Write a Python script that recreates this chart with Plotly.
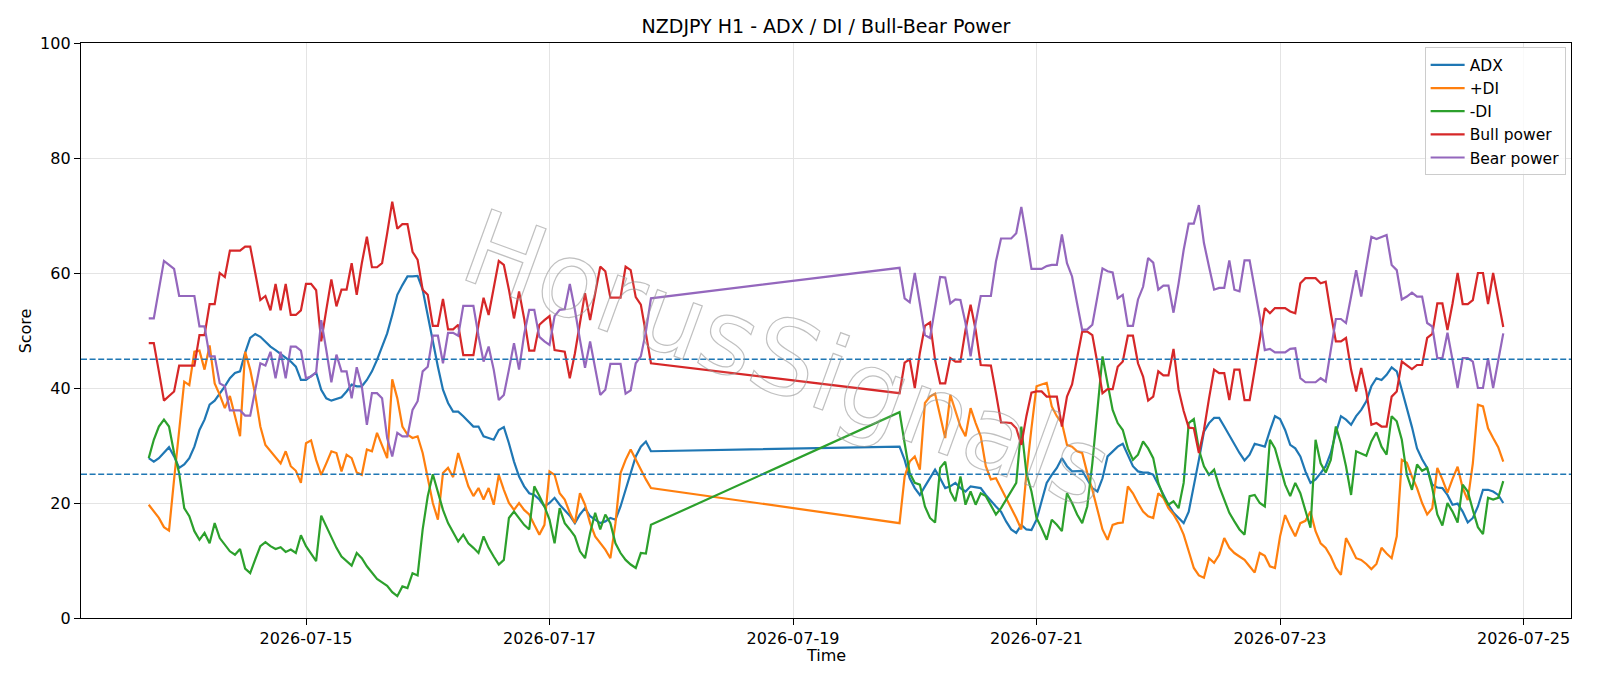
import pandas as pd
import plotly.graph_objects as go

# ---------------- data ----------------
seg1_start, seg1_end = "2026-07-13 17:00", "2026-07-17 20:00"
seg2_start, seg2_end = "2026-07-19 21:00", "2026-07-24 20:00"

adx_week1 = [27.8, 27.2, 27.8, 28.7, 29.7, 28.1, 26.1, 26.7, 27.8, 29.8, 32.7, 34.5, 37.1, 37.8, 39.0, 40.3,
             41.7, 42.6, 42.9, 46.1, 48.7, 49.4, 48.9, 48.1, 47.2, 46.6, 45.9, 45.2, 44.6, 43.7, 41.4, 41.4, 42.0,
             42.7, 39.7, 38.2, 37.8, 38.1, 38.4, 39.4, 40.6, 40.3, 40.3, 41.4, 42.9, 44.9, 47.2, 49.5, 52.7, 56.2,
             57.9, 59.4, 59.4, 59.5, 57.1, 52.4, 47.8, 43.7, 39.7, 37.4, 35.9, 35.9, 35.1, 34.2, 33.3, 33.3, 31.6,
             31.3, 31.0, 32.7, 33.2, 30.4, 27.2, 24.6, 22.9, 21.7, 21.4, 20.6, 19.4, 20.0, 20.9, 19.7, 18.7, 17.8,
             16.5, 18.0, 19.1, 17.7, 17.1, 16.5, 16.8, 17.4, 17.1, 19.4, 22.3, 25.2, 28.1, 29.8, 30.7, 29.0]
adx_week2 = [29.8, 27.5, 24.3, 22.6, 21.4, 22.9, 24.3, 25.8, 24.3, 22.6, 22.9, 23.5, 22.6, 22.0, 22.9, 22.7,
             22.6, 21.4, 20.3, 19.4, 18.5, 16.8, 15.4, 14.8, 16.2,
             15.4, 15.3, 17.1, 20.3, 23.5, 24.9, 26.1, 27.8, 26.4, 25.5, 25.5, 25.6, 24.1, 22.6, 22.0, 24.3, 28.1,
             29.0, 29.8, 30.3, 28.4, 26.4, 25.5, 25.3, 25.3, 24.9, 23.2, 21.4, 19.7, 18.3, 17.4, 16.5, 18.5,
             22.9, 27.5, 32.4, 33.9, 34.8, 34.8, 33.3, 31.7, 30.2, 28.7, 27.4, 28.4, 30.3, 30.1, 29.8, 32.6, 35.1,
             34.6, 32.7, 30.1, 29.5, 28.1, 25.5, 23.5, 24.1, 25.2, 26.4, 28.7, 32.2, 35.1, 34.5, 33.6, 35.1,
             36.2, 37.7, 40.3, 41.7, 41.4, 42.3, 43.6, 42.9, 39.7, 36.5, 33.2, 29.5, 27.6, 26.1, 23.2, 22.7, 22.6,
             21.4, 19.7, 19.9, 18.5, 16.6, 17.4, 19.4, 22.3, 22.3, 22.0, 21.4, 20.0]

plus_di_week1 = [19.7, 18.5, 17.4, 15.8, 15.2, 24.1, 32.2, 41.1, 40.5, 46.3, 46.5, 43.2, 47.4, 40.8, 38.8, 36.5,
                 38.6, 35.1, 31.6, 46.3, 43.2, 38.8, 33.3, 30.1, 29.0, 28.1, 26.9, 29.0, 26.4, 25.6, 23.5, 30.4, 30.9,
                 27.5, 24.9, 26.9, 29.0, 28.7, 25.5, 28.4, 27.8, 25.3, 24.9, 29.3, 29.0, 32.2, 30.1, 27.8, 41.5, 38.2,
                 33.3, 31.9, 31.3, 31.6, 28.7, 24.1, 20.0, 17.1, 25.2, 26.1, 24.5, 28.7, 25.8, 22.9, 21.2, 22.6, 20.6,
                 22.6, 19.7, 24.9, 22.3, 20.0, 18.8, 20.0, 18.8, 18.0, 16.2, 14.5, 16.2, 25.5, 24.9, 21.7, 20.6, 18.3,
                 16.5, 21.7, 19.7, 16.5, 14.2, 13.0, 11.9, 10.4, 16.5, 25.2, 27.5, 29.3, 27.5, 25.8, 24.1, 22.6]
plus_di_week2 = [16.5, 24.6, 27.2, 28.1, 25.8, 37.4, 38.5, 39.0, 35.1, 31.3, 38.8, 35.9, 33.3, 31.6, 36.5, 33.9,
                 31.6, 26.4, 24.1, 24.3, 22.6, 20.9, 19.1, 17.4, 15.4,
                 25.0, 33.0, 40.3, 40.6, 40.9, 36.8, 35.1, 33.9, 30.1, 29.8, 29.0, 28.7, 25.2, 22.3, 18.8, 15.4, 13.6,
                 16.2, 16.5, 16.6, 22.9, 21.7, 20.0, 18.5, 17.7, 17.4, 21.7, 20.9, 19.1, 18.0, 16.5, 14.5, 11.6,
                 8.7, 7.4, 7.0, 10.4, 9.6, 11.0, 13.9, 12.2, 11.3, 10.7, 10.1, 9.0, 7.9, 11.3, 10.8, 9.0, 8.7, 14.2,
                 17.9, 15.9, 14.2, 16.5, 16.9, 18.5, 15.1, 13.0, 12.2, 10.7, 8.7, 7.5, 13.9, 12.2, 10.4,
                 10.1, 9.4, 8.5, 9.4, 12.2, 11.2, 10.4, 14.2, 27.5, 27.0, 24.6, 22.6, 20.0, 18.0, 19.1, 26.1, 24.1,
                 21.8, 24.2, 26.3, 22.6, 20.5, 26.9, 37.1, 36.8, 33.0, 31.3, 29.7, 27.2]

minus_di_week1 = [27.8, 31.0, 33.3, 34.5, 33.3, 28.7, 25.2, 19.1, 17.7, 15.1, 13.6, 14.8, 13.0, 16.5, 13.9, 12.8,
                  11.6, 11.0, 12.0, 8.6, 7.8, 10.2, 12.5, 13.2, 12.5, 12.0, 12.3, 11.5, 11.9, 11.3, 14.4, 12.5, 11.2,
                  9.9, 17.8, 15.9, 14.2, 12.2, 10.7, 9.9, 9.1, 11.3, 10.4, 9.0, 7.9, 6.8, 6.2, 5.6, 4.5, 3.8, 5.5,
                  5.2, 7.8, 7.4, 15.4, 21.2, 25.0, 22.0, 18.8, 16.5, 14.8, 13.3, 14.5, 13.0, 12.2, 11.3, 14.2,
                  12.2, 10.7, 9.3, 10.1, 17.4, 18.5, 17.4, 16.2, 15.4, 22.9, 21.2, 19.4, 17.1, 13.0, 19.1, 16.5, 15.4,
                  14.2, 11.6, 10.4, 14.8, 18.3, 15.4, 18.0, 16.5, 13.0, 11.3, 10.1, 9.3, 8.7, 11.3, 11.2, 16.2]
minus_di_week2 = [35.8, 30.4, 25.2, 23.5, 23.2, 19.4, 17.4, 16.6, 26.1, 27.2, 22.0, 20.3, 24.6, 19.7, 22.0, 19.7,
                  21.7, 21.2, 19.7, 18.0, 19.1, 20.6, 22.0, 23.5, 33.3,
                  25.2, 22.0, 17.4, 15.6, 13.6, 17.1, 16.2, 15.1, 21.7, 20.0, 18.0, 16.5, 19.4, 26.9, 36.8, 45.5, 40.8,
                  36.2, 33.9, 32.7, 29.5, 27.5, 28.4, 30.7, 29.5, 27.8, 23.5, 21.2, 19.7, 20.3, 19.1, 23.5, 33.9,
                  34.6, 29.3, 26.4, 24.9, 25.8, 22.9, 20.5, 18.3, 16.8, 15.4, 14.5, 21.2, 21.4, 20.0, 19.4, 31.0, 29.5,
                  26.4, 23.2, 21.2, 23.5, 21.7, 18.8, 15.7, 31.0, 26.9, 25.3, 27.5, 33.3, 30.4, 26.4, 21.4, 29.0,
                  28.6, 28.2, 30.7, 32.3, 29.8, 28.4, 35.1, 34.2, 31.0, 24.9, 22.3, 26.7, 25.6, 26.1, 22.6, 18.0, 16.1,
                  20.0, 18.5, 16.6, 23.2, 22.0, 18.8, 15.8, 14.6, 20.9, 20.6, 20.9, 23.8]

bull_week1 = [47.8, 47.8, 42.9, 37.8, 38.6, 39.4, 43.9, 43.9, 43.9, 43.9, 49.2, 49.2, 54.6, 54.6, 60.0, 59.3,
              63.9, 63.9, 63.9, 64.6, 64.6, 60.0, 55.3, 56.0, 53.5, 58.1, 53.5, 58.1, 52.7, 52.7, 53.5, 58.1, 58.1,
              57.0, 48.1, 53.6, 58.9, 54.2, 57.1, 57.1, 61.7, 56.2, 61.7, 66.3, 61.0, 61.0, 61.7, 66.9, 72.4, 67.7,
              68.5, 68.5, 63.7, 62.3, 57.1, 56.2, 50.8, 50.8, 55.5, 50.2, 50.2, 51.0, 45.7, 45.7, 45.7, 51.0, 55.7,
              52.7, 57.6, 62.1, 61.4, 57.1, 52.1, 56.8, 52.1, 46.5, 46.5, 51.0, 51.8, 52.5, 46.6, 46.5, 46.3, 41.7,
              46.0, 51.3, 56.5, 51.8, 56.5, 61.1, 60.3, 55.7, 55.7, 55.7, 61.1, 60.5, 55.8, 54.5, 49.5, 44.3]
bull_week2 = [39.1, 44.4, 45.0, 40.0, 46.1, 50.8, 51.4, 44.9, 40.8, 40.8, 45.2, 44.6, 44.6, 50.1, 54.5, 50.1,
              44.0, 44.0, 43.9, 39.1, 34.0, 34.0, 33.9, 33.0, 30.1,
              35.1, 39.2, 39.4, 39.4, 38.5, 38.5, 38.5, 33.3, 38.5, 40.6, 45.2, 49.8, 49.8, 49.2, 44.3, 39.1, 39.8,
              39.8, 43.7, 44.6, 49.1, 49.1, 44.3, 42.0, 37.8, 38.5, 42.9, 42.2, 42.2, 46.8, 39.7, 36.0, 33.1,
              33.0, 28.7, 32.7, 38.2, 43.2, 42.6, 42.6, 37.9, 43.2, 43.2, 37.9, 37.9, 42.9, 48.4, 53.9, 53.0, 53.9,
              53.9, 53.9, 53.3, 53.0, 58.2, 59.1, 59.1, 59.1, 58.2, 58.5, 53.0, 48.1, 48.1, 48.7, 43.2, 39.4,
              43.5, 39.4, 33.6, 33.9, 33.3, 33.3, 38.5, 39.4, 44.6, 44.0, 43.3, 44.0, 44.0, 48.7, 49.4, 54.7, 54.7,
              50.1, 54.7, 60.0, 54.6, 54.6, 55.3, 60.0, 60.0, 54.6, 60.0, 55.3, 50.6]

bear_week1 = [52.1, 52.1, 57.1, 62.1, 61.4, 60.7, 56.0, 56.0, 56.0, 56.0, 50.7, 50.7, 45.5, 45.5, 40.8, 40.3,
              36.1, 36.1, 36.1, 35.2, 35.2, 39.7, 44.3, 43.9, 46.3, 41.7, 46.3, 41.7, 47.2, 47.2, 46.5, 41.7, 42.0,
              42.7, 51.8, 46.6, 41.0, 45.8, 42.9, 42.9, 38.2, 43.6, 40.3, 33.6, 39.1, 39.1, 38.2, 31.3, 28.1, 32.2,
              31.6, 31.6, 36.2, 37.7, 42.9, 43.7, 49.1, 49.1, 44.3, 49.6, 49.6, 49.1, 54.3, 54.3, 54.3, 49.1, 44.6,
              47.2, 43.2, 37.9, 38.8, 43.2, 47.8, 43.2, 49.3, 53.6, 53.6, 48.9, 48.1, 47.5, 52.5, 53.6, 53.7, 58.1,
              53.6, 48.4, 43.5, 48.1, 43.5, 38.8, 39.7, 44.2, 44.2, 44.2, 39.0, 39.6, 44.3, 45.5, 49.8, 55.6]
bear_week2 = [60.9, 55.6, 54.9, 60.0, 54.7, 49.2, 48.7, 53.9, 59.3, 59.2, 54.7, 55.4, 55.3, 51.3, 45.5, 51.3,
              56.0, 56.0, 56.0, 62.0, 66.0, 66.0, 66.0, 66.9, 71.5,
              66.3, 60.7, 60.7, 60.7, 61.2, 61.4, 61.4, 66.7, 61.7, 59.4, 54.7, 50.1, 50.2, 51.0, 55.9, 60.8, 60.3,
              60.1, 55.6, 56.2, 50.8, 50.8, 55.4, 57.6, 62.6, 61.8, 57.1, 57.8, 57.8, 53.1, 58.2, 64.0, 68.6,
              68.6, 71.8, 65.2, 61.1, 57.1, 57.4, 57.4, 62.2, 57.1, 56.8, 62.2, 62.2, 57.6, 52.4, 46.6, 46.8, 46.2,
              46.2, 46.2, 46.8, 46.9, 41.7, 41.0, 41.0, 41.0, 41.7, 41.1, 46.6, 52.0, 52.0, 51.3, 55.9, 60.5,
              55.9, 61.1, 66.3, 65.9, 66.3, 66.6, 61.4, 60.5, 55.4, 55.9, 56.6, 55.9, 55.9, 51.3, 50.7, 45.2, 45.2,
              49.6, 44.9, 40.0, 45.2, 45.2, 44.6, 40.0, 40.0, 45.2, 40.0, 44.9, 49.5]

series_names = ["ADX", "+DI", "-DI", "Bull power", "Bear power"]
threshold_levels = [25, 45]
y_ticks = [0, 20, 40, 60, 80, 100]
title_text = "NZDJPY H1 - ADX / DI / Bull-Bear Power"
watermark_text = "HorusSignals"

# ---------------- build ----------------
week1_times = list(pd.date_range(seg1_start, seg1_end, freq="h"))
week2_times = list(pd.date_range(seg2_start, seg2_end, freq="h"))
times = week1_times + week2_times

values = [adx_week1 + adx_week2,
          plus_di_week1 + plus_di_week2,
          minus_di_week1 + minus_di_week2,
          bull_week1 + bull_week2,
          bear_week1 + bear_week2]
for name, v in zip(series_names, values):
    assert len(v) == len(times), (name, len(v), len(times))

colors = ["#1f77b4", "#ff7f0e", "#2ca02c", "#d62728", "#9467bd"]
FONT = "DejaVu Sans"

fig = go.Figure()
for name, v, c in zip(series_names, values, colors):
    fig.add_trace(go.Scatter(x=times, y=v, mode="lines", name=name,
                             line=dict(color=c, width=2.2)))

for lvl in threshold_levels:
    fig.add_shape(type="line", xref="paper", x0=0, x1=1, yref="y", y0=lvl, y1=lvl,
                  line=dict(color="#1f77b4", width=1.6, dash="6px,2.6px"), layer="above")

t0, t1 = times[0], times[-1]
pad = (t1 - t0) * 0.05
x_range = [(t0 - pad).strftime("%Y-%m-%d %H:%M:%S"), (t1 + pad).strftime("%Y-%m-%d %H:%M:%S")]

axis_common = dict(showline=True, linecolor="black", linewidth=1.3, mirror=True,
                   ticks="outside", ticklen=6, tickwidth=1.3, tickcolor="black",
                   showgrid=True, gridcolor="#e4e4e4", gridwidth=1.2, zeroline=False,
                   tickfont=dict(family=FONT, size=16, color="black"))

fig.update_layout(
    width=1600, height=686, autosize=False,
    margin=dict(l=81, r=29, t=43, b=68),
    paper_bgcolor="white", plot_bgcolor="white",
    font=dict(family=FONT, size=16, color="black"),
    title=dict(text=title_text, x=0.5, xref="paper", xanchor="center",
               y=1 - 26 / 686, yref="container", yanchor="middle",
               font=dict(family=FONT, size=19, color="black")),
    xaxis=dict(type="date", range=x_range, tickformat="%Y-%m-%d",
               tick0="2026-07-15", dtick=2 * 86400000, **axis_common),
    yaxis=dict(range=[0, 100], tickmode="array", tickvals=y_ticks, **axis_common),
    legend=dict(x=0.9964, xanchor="right", y=0.9925, yanchor="top",
                bgcolor="rgba(255,255,255,0.8)", bordercolor="#cccccc", borderwidth=1,
                font=dict(family=FONT, size=15.5, color="black"), itemwidth=34),
    showlegend=True,
)

fig.add_annotation(text="Score", xref="paper", yref="paper", x=-0.037, y=0.5,
                   textangle=-90, showarrow=False, xanchor="center", yanchor="middle",
                   font=dict(family=FONT, size=16, color="black"))
fig.add_annotation(text="Time", xref="paper", yref="paper", x=0.5, y=-0.0653,
                   showarrow=False, xanchor="center", yanchor="middle",
                   font=dict(family=FONT, size=16, color="black"))
fig.add_annotation(text=watermark_text, xref="paper", yref="paper", x=0.474, y=0.45,
                   textangle=20, showarrow=False, xanchor="center", yanchor="middle",
                   font=dict(family=FONT, size=104, color="rgba(255,255,255,0.25)"))

post_js = """
var gd = document.getElementById('{plot_id}');
function styleWM(){
  gd.querySelectorAll('text.annotation-text').forEach(function(t){
    if (t.textContent.indexOf('HorusSignals') === 0) {
      t.style.stroke = 'rgba(150,150,150,0.6)';
      t.style.strokeWidth = '1.2px';
      t.style.fill = 'rgba(255,255,255,0.25)';
    }
  });
}
styleWM();
if (gd.on) { gd.on('plotly_afterplot', styleWM); }
"""

fig.write_html("out.html", post_script=post_js)
